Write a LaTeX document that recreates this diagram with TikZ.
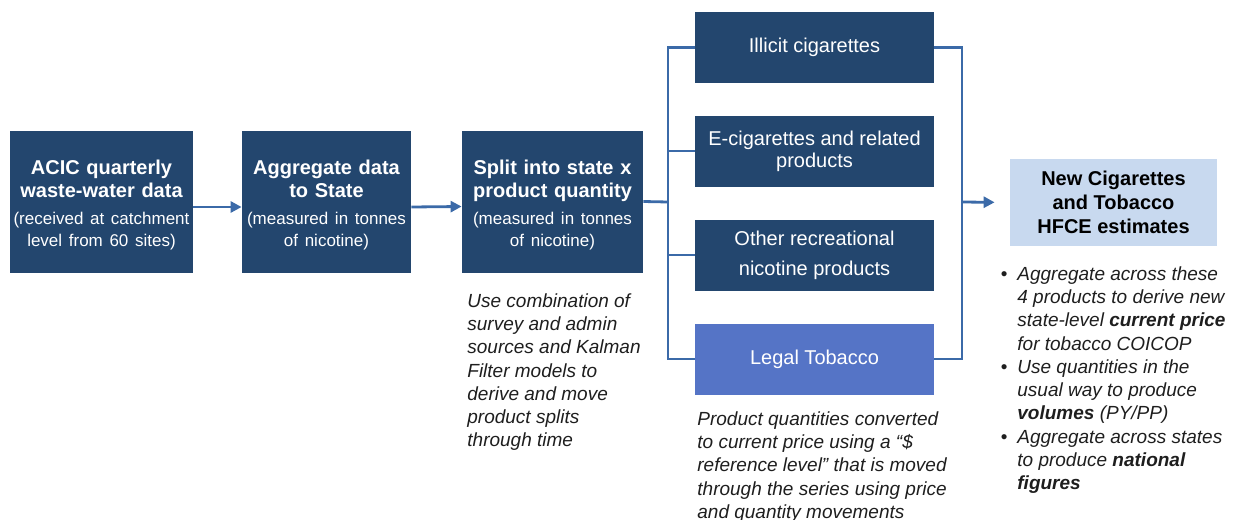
\documentclass[tikz,border=0pt]{standalone}
\usepackage{fontspec}
\setmainfont{Liberation Sans}
\usetikzlibrary{positioning,arrows.meta}

\definecolor{navy}{HTML}{23466E}
\definecolor{legalblue}{HTML}{5574C6}
\definecolor{paleblue}{HTML}{C8D9EF}
\definecolor{linkblue}{HTML}{3B6AA8}
\definecolor{notegrey}{HTML}{1E1E1E}

\tikzset{
  stage/.style={fill=navy, text=white, inner sep=1pt, minimum height=71pt, align=center, font=\fontsize{10}{11.5}\selectfont\bfseries},
  product/.style={fill=navy, text=white, inner sep=1pt, minimum width=119.5pt, minimum height=35.5pt, align=center, font=\fontsize{10}{11}\selectfont},
  link/.style={draw=linkblue, line width=1.4pt},
  arrowlink/.style={link, -{Triangle[length=5.5pt,width=5.5pt]}},
  note/.style={anchor=north west, align=left, inner sep=0pt, text=notegrey, font=\fontsize{9.5}{11.65}\selectfont\itshape},
}
% taller first line pushes the stage text down a little
\newcommand{\stagetop}{\rule{0pt}{10.3pt}}
\newcommand{\stagesub}[1]{\par\vspace{2.5pt}{\fontsize{8.5}{11}\selectfont\mdseries #1\par}}

\begin{document}
\begin{tikzpicture}[x=0.5pt,y=-0.5pt]
\useasboundingbox (0,0) rectangle (1235,519);

\node[stage, minimum width=91.5pt, text width=89.5pt] (stage_acic) at (101.5,202) {\stagetop ACIC quarterly\\ waste-water data\stagesub{(received at catchment\\ level from 60 sites)}};
\node[stage, minimum width=84.5pt, text width=82.5pt] (stage_agg) at (326.5,202) {\stagetop Aggregate data\\ to State\stagesub{(measured in tonnes\\ of nicotine)}};
\node[stage, minimum width=90.5pt, text width=88.5pt] (stage_split) at (552.5,201.5) {\stagetop Split into state x\\ product quantity\stagesub{(measured in tonnes\\ of nicotine)}};

\node[product] (prod_illicit) at (814.5,47.5) {Illicit cigarettes};
\node[product] (prod_ecig) at (814.5,151) {E-cigarettes and related\\ products};
\node[product] (prod_other) at (814.5,255) {Other recreational\\[4pt] nicotine products};
\node[product, fill=legalblue] (prod_legal) at (814.5,359) {Legal Tobacco};

\node[fill=paleblue, minimum width=103.5pt, minimum height=43.5pt, align=center, font=\fontsize{10}{12}\selectfont\bfseries] (hfce) at (1113.5,202.5) {New Cigarettes\\ and Tobacco\\ HFCE estimates};

% notes
\node[note] (note_split) at (467,293) {Use combination of\\ survey and admin\\ sources and Kalman\\ Filter models to\\ derive and move\\ product splits\\ through time};
\node[note] (note_legal) at (697,411) {Product quantities converted\\ to current price using a “\$\\ reference level” that is moved\\ through the series using price\\ and quantity movements};
\node[note] (note_hfce) at (1017,266) {\llap{\upshape\textbullet\hspace{5pt}}Aggregate across these\\ 4 products to derive new\\ state-level \textbf{current price}\\ for tobacco COICOP\\ \llap{\upshape\textbullet\hspace{5pt}}Use quantities in the\\ usual way to produce\\ \textbf{volumes} (PY/PP)\\ \llap{\upshape\textbullet\hspace{5pt}}Aggregate across states\\ to produce \textbf{national}\\ \textbf{figures}};

\coordinate (split_bus) at (668,202);
\coordinate (merge_bus) at (962,202);

\draw[arrowlink] ([yshift=-2.5pt]stage_acic.east) -- ([yshift=-2.5pt]stage_agg.west);
\draw[arrowlink] ([yshift=-2.5pt]stage_agg.east) -- ([yshift=-2.5pt]stage_split.west);

% fan out to the four products
\draw[link] (stage_split.east) -- (split_bus);
\draw[link] (prod_illicit.west) -- (prod_illicit.west -| split_bus) -- (prod_legal.west -| split_bus) -- (prod_legal.west);
\foreach \p in {prod_ecig,prod_other}
  \draw[link] (\p.west) -- (\p.west -| split_bus);

% back together
\draw[link] (prod_illicit.east) -- (prod_illicit.east -| merge_bus) -- (prod_legal.east -| merge_bus) -- (prod_legal.east);
\draw[arrowlink, shorten >=7.5pt] (merge_bus) -- (hfce.west);
\end{tikzpicture}
\end{document}
